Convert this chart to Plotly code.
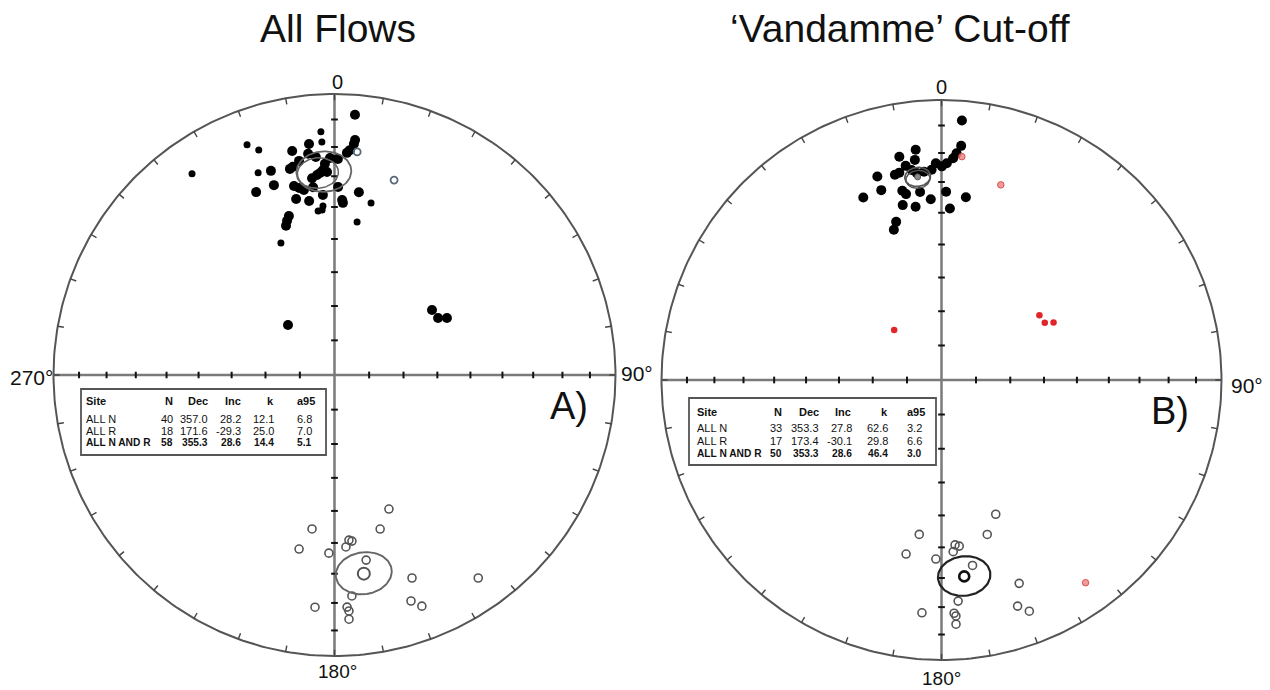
import numpy as np
import plotly.graph_objects as go

# ---------------- DATA (declination, inclination in degrees) ----------------
# Panel A: All Flows
A_norm_large_dec = [4.5, 353.7, 5.0, 4.8, 3.9, 3.2, 349.3, 353.2, 355.1, 358.8, 0.9, 350.6, 357.4, 347.8,
                    348.7, 342.7, 356.8, 357.9, 355.9, 355.0, 353.5, 342.3, 347.9, 349.3, 350.6, 353.5,
                    1.1, 336.8, 7.6, 356.3, 347.7, 351.7, 2.5, 2.8, 344.0, 342.9, 342.0, 56.3, 61.2, 63.1, 317.1]
A_norm_large_inc = [7.9, 18.4, 17.2, 18.6, 20.9, 21.9, 20.0, 21.8, 23.2, 23.8, 24.1, 23.8, 25.7, 25.9,
                    25.4, 24.9, 27.8, 28.5, 28.7, 29.3, 30.2, 29.8, 31.8, 32.8, 33.7, 33.2,
                    33.5, 29.9, 34.7, 36.0, 36.1, 37.5, 37.7, 38.6, 40.8, 42.1, 43.5, 55.7, 55.4, 53.0, 70.2]
A_norm_small_dec = [356.8, 356.9, 339.2, 341.4, 324.7, 339.3, 12.0, 356.1, 354.3, 355.7, 8.4, 337.9]
A_norm_small_inc = [14.4, 18.1, 13.4, 16.6, 13.3, 24.1, 37.5, 39.5, 41.0, 40.8, 44.2, 48.0]
A_up_open_dec = [5.8, 17.0]
A_up_open_inc = [21.3, 28.3]
A_rev_dec = [157.9, 188.3, 163.5, 175.0, 174.0, 176.2, 191.5, 181.8, 170.3, 159.1, 144.7, 175.5,
             184.8, 161.3, 159.3, 176.9, 176.5, 176.6]
A_rev_inc = [-47.3, -43.9, -42.3, -40.7, -40.3, -38.6, -36.9, -36.7, -33.6, -23.7, -12.5, -22.2,
             -18.2, -16.2, -13.1, -18.4, -17.0, -14.0]

# Panel B: 'Vandamme' cut-off
B_norm_dec = [4.5, 4.8, 3.8, 3.0, 1.4, 0.1, 358.5, 357.3, 353.6, 349.3, 353.1, 350.5, 348.5, 347.2,
              342.5, 342.4, 348.3, 349.2, 353.5, 1.4, 336.8, 356.6, 7.6, 347.5, 351.5, 2.8, 344.0,
              342.4, 353.2, 351.9, 355.2]
B_norm_inc = [7.8, 17.2, 20.0, 21.8, 23.6, 24.7, 23.6, 25.8, 18.4, 20.0, 21.9, 23.5, 25.4, 25.8,
              24.8, 29.6, 31.6, 32.9, 32.9, 33.2, 29.8, 35.6, 34.5, 36.2, 37.5, 38.6, 40.9,
              43.1, 26.5, 25.2, 26.3]
B_rej_dec = [316.5, 56.5, 61.0, 62.8]
B_rej_inc = [70.0, 55.5, 55.3, 52.9]
B_rej_faint_dec = [5.2, 16.9, 144.6]
B_rej_faint_inc = [21.0, 28.0, -12.2]
B_rev_dec = [158.0, 188.2, 163.5, 175.3, 173.9, 176.1, 191.5, 181.8, 170.5, 159.1, 175.7, 184.8,
             161.4, 159.2, 176.9, 176.5, 176.6]
B_rev_inc = [-47.1, -43.6, -42.0, -40.6, -40.1, -38.5, -36.7, -36.2, -33.3, -23.3, -21.9, -17.7,
             -15.9, -12.7, -17.7, -16.7, -13.7]

# Fisher statistics tables
stat_site = ["ALL N", "ALL R", "ALL N AND R"]
A_N = [40, 18, 58]
A_Dec = [357.0, 171.6, 355.3]
A_Inc = [28.2, -29.3, 28.6]
A_k = [12.1, 25.0, 14.4]
A_a95 = [6.8, 7.0, 5.1]
B_N = [33, 17, 50]
B_Dec = [353.3, 173.4, 353.3]
B_Inc = [27.8, -30.1, 28.6]
B_k = [62.6, 29.8, 46.4]
B_a95 = [3.2, 6.6, 3.0]

W, H = 1270, 690
FONT = "Arial, Liberation Sans, sans-serif"


def proj(dec, inc):
    dec = np.radians(np.asarray(dec, float))
    inc = np.radians(np.abs(np.asarray(inc, float)))
    rho = np.sqrt(2) * np.sin((np.pi / 2 - inc) / 2)
    return rho * np.sin(dec), rho * np.cos(dec)


def small_circle(dec, inc, a95, n=121):
    D, I, a = np.radians(dec), np.radians(inc), np.radians(a95)
    m = np.array([np.cos(I) * np.cos(D), np.cos(I) * np.sin(D), np.sin(I)])
    u = np.array([-np.sin(I) * np.cos(D), -np.sin(I) * np.sin(D), np.cos(I)])
    v = np.array([-np.sin(D), np.cos(D), 0.0])
    t = np.linspace(0, 2 * np.pi, n)
    p = np.cos(a) * m[:, None] + np.sin(a) * (np.cos(t) * u[:, None] + np.sin(t) * v[:, None])
    d = np.degrees(np.arctan2(p[1], p[0]))
    i = np.degrees(np.arcsin(np.clip(p[2], -1, 1)))
    return proj(d, i)


fig = go.Figure()


def frame(xa, ya):
    t = np.radians(np.arange(0, 361, 1))
    fig.add_trace(go.Scatter(x=np.sin(t), y=np.cos(t), mode="lines", xaxis=xa, yaxis=ya,
                             line=dict(color="#555555", width=2), hoverinfo="skip"))
    fig.add_trace(go.Scatter(x=[-1, 1, None, 0, 0], y=[0, 0, None, -1, 1], mode="lines",
                             xaxis=xa, yaxis=ya, line=dict(color="#7a7a7a", width=2.5), hoverinfo="skip"))
    # perimeter ticks every 10 degrees
    px_, py_ = [], []
    for az in range(0, 360, 10):
        a = np.radians(az)
        px_ += [np.sin(a), 0.978 * np.sin(a), None]
        py_ += [np.cos(a), 0.978 * np.cos(a), None]
    fig.add_trace(go.Scatter(x=px_, y=py_, mode="lines", xaxis=xa, yaxis=ya,
                             line=dict(color="#444444", width=1.4), hoverinfo="skip"))
    # axis ticks every 10 degrees of inclination
    tx, ty = [], []
    h = 0.012
    for inc in range(10, 90, 10):
        r = np.sqrt(2) * np.sin(np.radians(90 - inc) / 2)
        for s in (-1, 1):
            tx += [s * r, s * r, None, -h, h, None]
            ty += [-h, h, None, s * r, s * r, None]
    fig.add_trace(go.Scatter(x=tx, y=ty, mode="lines", xaxis=xa, yaxis=ya,
                             line=dict(color="#111111", width=2), hoverinfo="skip"))


def dots(dec, inc, xa, ya, size, color="black", symbol="circle", lw=0, lc=None):
    x, y = proj(dec, inc)
    fig.add_trace(go.Scatter(x=x, y=y, mode="markers", xaxis=xa, yaxis=ya, hoverinfo="skip",
                             marker=dict(size=size, color=color, symbol=symbol,
                                         line=dict(width=lw, color=lc if lc else color))))


def ellipse(dec, inc, a95, xa, ya, color, width):
    x, y = small_circle(dec, inc, a95)
    fig.add_trace(go.Scatter(x=x, y=y, mode="lines", xaxis=xa, yaxis=ya, hoverinfo="skip",
                             line=dict(color=color, width=width)))


# ---- Panel A ----
frame("x", "y")
dots(A_norm_large_dec, A_norm_large_inc, "x", "y", 10)
dots(A_norm_small_dec, A_norm_small_inc, "x", "y", 7)
dots(A_up_open_dec, A_up_open_inc, "x", "y", 7, color="#5a6a7a", symbol="circle-open", lw=1.8)
dots(A_rev_dec, A_rev_inc, "x", "y", 8, color="#555555", symbol="circle-open", lw=1.6)
dots([A_Dec[1]], [A_Inc[1]], "x", "y", 12, color="#555555", symbol="circle-open", lw=2)
ellipse(A_Dec[0], A_Inc[0], A_a95[0], "x", "y", "#666666", 1.8)
ellipse(A_Dec[2], A_Inc[2], A_a95[2], "x", "y", "#666666", 1.5)
ellipse(A_Dec[1], A_Inc[1], A_a95[1], "x", "y", "#666666", 1.9)

# ---- Panel B ----
frame("x2", "y2")
dots(B_norm_dec, B_norm_inc, "x2", "y2", 10)
dots(B_rej_dec, B_rej_inc, "x2", "y2", 6.5, color="#e0262a")
dots(B_rej_faint_dec, B_rej_faint_inc, "x2", "y2", 6.5, color="rgba(235,130,130,0.8)",
     symbol="circle", lw=1, lc="#d9534f")
dots(B_rev_dec, B_rev_inc, "x2", "y2", 8, color="#555555", symbol="circle-open", lw=1.6)
ellipse(B_Dec[0], B_Inc[0], B_a95[0], "x2", "y2", "#555555", 1.7)
ellipse(B_Dec[2], B_Inc[2], B_a95[2], "x2", "y2", "#555555", 1.4)
dots([B_Dec[0]], [B_Inc[0]], "x2", "y2", 6, color="#8a8a8a", symbol="circle", lw=1, lc="#555555")
ellipse(B_Dec[1], B_Inc[1], B_a95[1], "x2", "y2", "#222222", 2.2)
dots([B_Dec[1]], [B_Inc[1]], "x2", "y2", 10, color="#111111", symbol="circle-open", lw=2.6)


# ---- layout geometry (pixels) ----
def PX(x):
    return x / W


def PY(y):
    return 1 - y / H


PAD = 1.05
geo = {"A": (334.5, 375, 281), "B": (941.5, 380, 280)}
axes = {}
for key, (ax_, ay_) in (("A", ("xaxis", "yaxis")), ("B", ("xaxis2", "yaxis2"))):
    cx, cy, R = geo[key]
    axes[ax_] = dict(domain=[PX(cx - PAD * R), PX(cx + PAD * R)], range=[-PAD, PAD], visible=False,
                     fixedrange=True)
    axes[ay_] = dict(domain=[PY(cy + PAD * R), PY(cy - PAD * R)], range=[-PAD, PAD], visible=False,
                     fixedrange=True)
axes["yaxis2"]["anchor"] = "x2"
axes["xaxis2"]["anchor"] = "y2"

ann = []


def text(x, y, s, size, xanchor="center", bold=False, color="#111111"):
    ann.append(dict(x=PX(x), y=PY(y), xref="paper", yref="paper", text=f"<b>{s}</b>" if bold else s,
                    showarrow=False, xanchor=xanchor, yanchor="middle",
                    font=dict(family=FONT, size=size, color=color)))


# Titles
text(338, 28, "All Flows", 39)
text(900, 28, "\u2018Vandamme\u2019 Cut-off", 39)
# compass labels
text(337, 82, "0", 20)
text(31, 377, "270°", 21)
text(637, 373, "90°", 21)
text(337, 671, "180°", 19)
text(941, 87, "0", 20)
text(1247, 385, "90°", 21)
text(941, 678, "180°", 19)
# panel letters
text(569, 406, "A)", 38)
text(1170, 411, "B)", 38)

shapes = []


def table(box, rows_y, cols, N, Dec, Inc, k, a95, fs=11):
    x0, y0, x1, y1 = box
    shapes.append(dict(type="rect", xref="paper", yref="paper", x0=PX(x0), x1=PX(x1), y0=PY(y1),
                       y1=PY(y0), line=dict(color="#555555", width=1.8), fillcolor="white"))
    site_x, n_r, dec_r, inc_r, inc_h, k_r, a_l = cols
    hy = rows_y[0]
    text(site_x, hy, "Site", fs, "left", True)
    text(n_r, hy, "N", fs, "right", True)
    text(dec_r, hy, "Dec", fs, "right", True)
    text(inc_h, hy, "Inc", fs, "center", True)
    text(k_r, hy, "k", fs, "right", True)
    text(a_l, hy, "a95", fs, "left", True)
    for i in range(3):
        y = rows_y[i + 1]
        b = i == 2
        f = fs - 0.8 if b else fs
        text(site_x, y, stat_site[i], f, "left", b)
        text(n_r, y, f"{N[i]}", f, "right", b)
        text(dec_r, y, f"{Dec[i]:.1f}", f, "right", b)
        text(inc_r, y, f"{Inc[i]:.1f}", f, "right", b)
        text(k_r, y, f"{k[i]:.1f}", f, "right", b)
        text(a_l, y, f"{a95[i]:.1f}", f, "left", b)


table((81, 389, 326, 455), [401, 419, 431, 442], (84, 175, 210, 243, 233, 276, 295),
      A_N, A_Dec, A_Inc, A_k, A_a95)
table((689, 398, 936, 465), [412, 428, 441, 453], (695, 784, 821, 854, 843, 890, 905),
      B_N, B_Dec, B_Inc, B_k, B_a95)

fig.update_layout(width=W, height=H, margin=dict(l=0, r=0, t=0, b=0), showlegend=False,
                  paper_bgcolor="white", plot_bgcolor="rgba(0,0,0,0)", annotations=ann,
                  shapes=shapes, **axes)

fig.write_html("out.html", config={"displayModeBar": False})
